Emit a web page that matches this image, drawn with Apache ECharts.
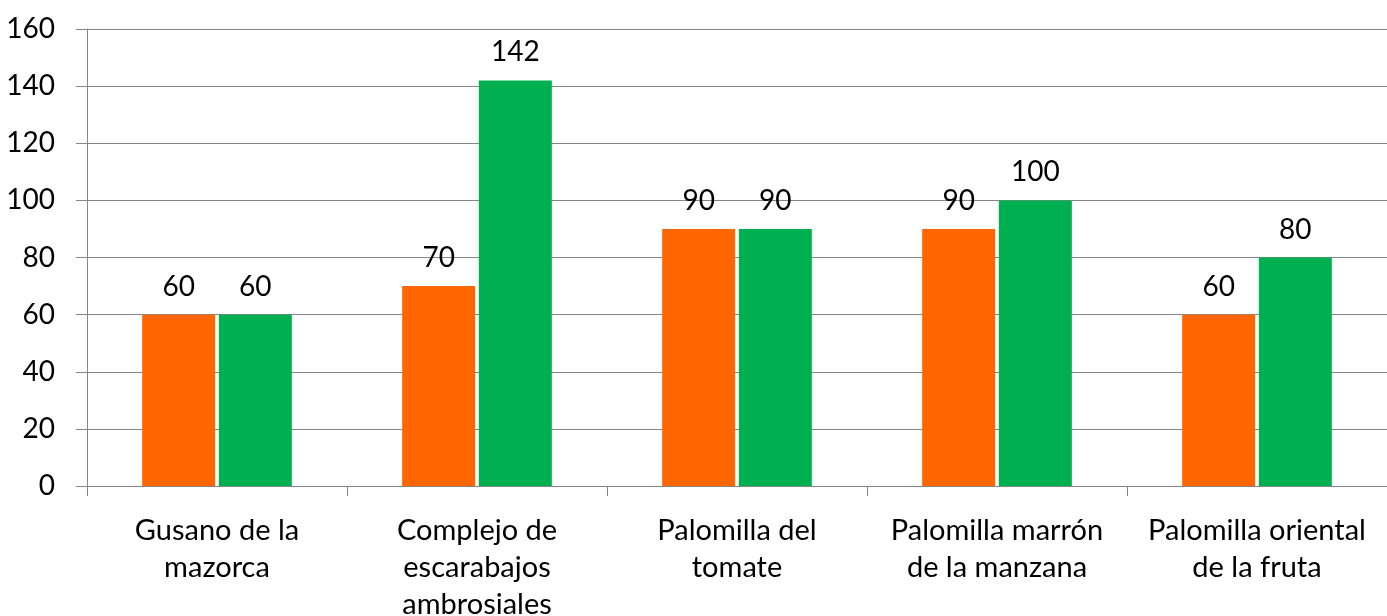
<!DOCTYPE html>
<html><head><meta charset="utf-8">
<script src="https://cdn.jsdelivr.net/npm/echarts@6/dist/echarts.min.js"></script>
<style>html,body{margin:0;padding:0;background:#fff}#c{width:1387px;height:616px}</style>
</head><body><div id="c"></div>
<script>
const categories = ["Gusano de la\nmazorca", "Complejo de\nescarabajos\nambrosiales", "Palomilla del\ntomate", "Palomilla marrón\nde la manzana", "Palomilla oriental\nde la fruta"];
const seriesOrange = [60, 70, 90, 90, 60];
const seriesGreen = [60, 142, 90, 100, 80];
const yTicks = {min: 0, max: 160, interval: 20};

const FONT = "Lato";
const chart = echarts.init(document.getElementById('c'));
chart.setOption({
  animation: false,
  textStyle: {fontFamily: FONT},
  grid: {left: 87, right: 0, top: 29, bottom: 130, containLabel: false, outerBoundsMode: 'none'},
  xAxis: {
    type: 'category', data: categories,
    axisLine: {lineStyle: {color: '#868686', width: 1}},
    axisTick: {show: true, length: 10, lineStyle: {color: '#868686'}},
    axisLabel: {color: '#000', fontSize: 29, lineHeight: 37, margin: 26, fontFamily: FONT, interval: 0}
  },
  yAxis: {
    type: 'value', min: yTicks.min, max: yTicks.max, interval: yTicks.interval,
    axisLine: {show: true, lineStyle: {color: '#868686', width: 1}},
    axisTick: {show: true, length: 11, lineStyle: {color: '#868686'}},
    splitLine: {lineStyle: {color: '#868686', width: 1}},
    axisLabel: {color: '#000', fontSize: 28, margin: 32, fontFamily: FONT}
  },
  series: [
    {type: 'bar', data: seriesOrange, barWidth: 73, barGap: '5%', itemStyle: {color: '#FF6600'},
     label: {show: true, position: 'top', distance: 14, color: '#000', fontSize: 28, fontFamily: FONT}},
    {type: 'bar', data: seriesGreen, barWidth: 73, barGap: '5%', itemStyle: {color: '#00B050'},
     label: {show: true, position: 'top', distance: 14, color: '#000', fontSize: 28, fontFamily: FONT}}
  ]
});
</script></body></html>
